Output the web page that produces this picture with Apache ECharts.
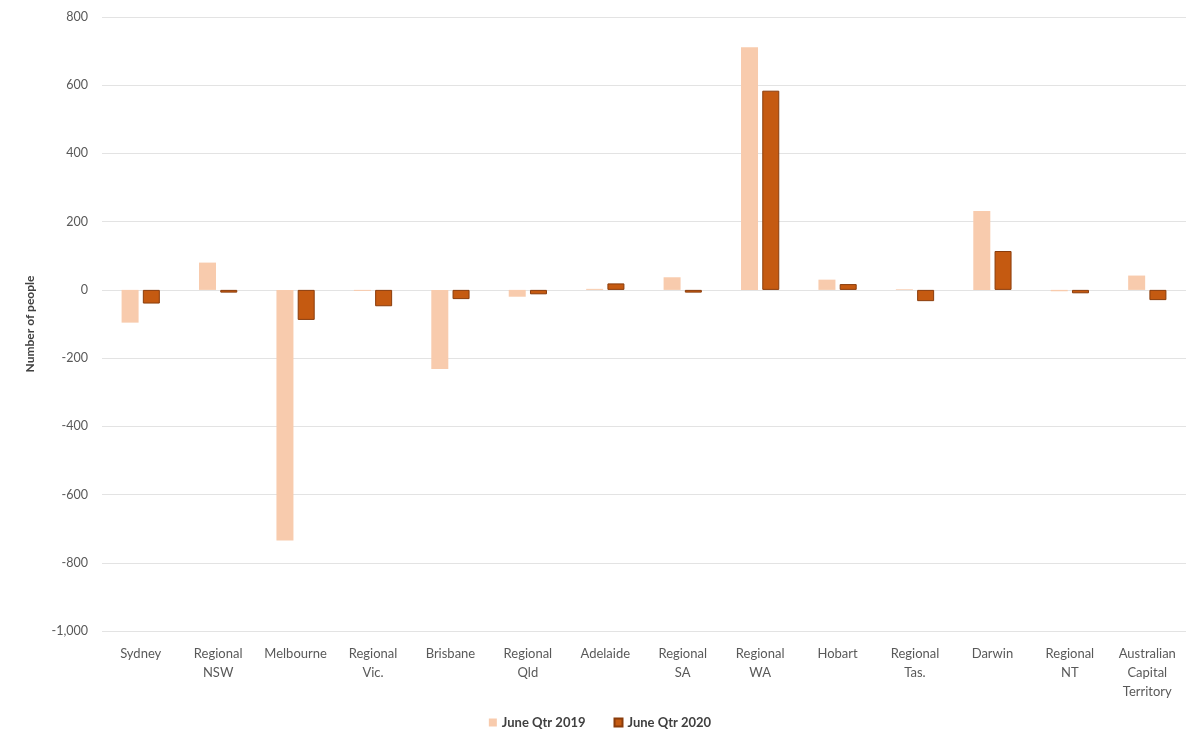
<!DOCTYPE html>
<html>
<head>
<meta charset="utf-8">
<script src="https://cdn.jsdelivr.net/npm/echarts@6/dist/echarts.min.js"></script>
<style>
html,body{margin:0;padding:0;background:#fff;}
#chart{width:1200px;height:750px;}
</style>
</head>
<body>
<div id="chart"></div>
<script>
const categories = ["Sydney","Regional NSW","Melbourne","Regional Vic.","Brisbane","Regional Qld","Adelaide","Regional SA","Regional WA","Hobart","Regional Tas.","Darwin","Regional NT","Australian Capital Territory"];
const seriesNames = ["June Qtr 2019","June Qtr 2020"];
const values2019 = [-96, 80, -735, -3, -232, -20, 3, 37, 711, 30, 2, 231, -4, 42];
const values2020 = [-40, -8, -88, -48, -27, -13, 19, -8, 584, 17, -33, 114, -10, -30];
const yTicks = {min: -1000, max: 800, interval: 200};

const chart = echarts.init(document.getElementById('chart'));
const font = 'Lato, "Open Sans", sans-serif';
chart.setOption({
  animation: false,
  backgroundColor: '#ffffff',
  grid: {left: 102, right: 14, top: 17, bottom: 119},
  legend: {
    bottom: 16, left: 'center',
    icon: 'rect', itemWidth: 8, itemHeight: 8, itemGap: 28,
    textStyle: {fontFamily: font, fontSize: 13, fontWeight: 'bold', color: '#404040'},
    data: seriesNames
  },
  xAxis: {
    type: 'category',
    data: categories,
    axisLine: {show: false, onZero: false},
    axisTick: {show: false},
    axisLabel: {
      interval: 0, margin: 13, color: '#595959', fontFamily: font, fontSize: 13, lineHeight: 19,
      formatter: v => v.split(' ').join('\n')
    }
  },
  yAxis: {
    type: 'value',
    min: yTicks.min, max: yTicks.max, interval: yTicks.interval,
    name: 'Number of people',
    nameLocation: 'middle', nameGap: 66, nameRotate: 90,
    nameTextStyle: {fontFamily: font, fontSize: 12, fontWeight: 'bold', color: '#404040'},
    axisLine: {show: false},
    axisTick: {show: false},
    axisLabel: {
      margin: 14, color: '#595959', fontFamily: font, fontSize: 12.5,
      formatter: v => v.toLocaleString('en-US')
    },
    splitLine: {lineStyle: {color: '#E3E3E3', width: 1}}
  },
  series: [
    {
      name: seriesNames[0], type: 'bar', data: values2019,
      barWidth: 17, barGap: '25%',
      itemStyle: {color: '#F8CBAD'}
    },
    {
      name: seriesNames[1], type: 'bar', data: values2020,
      barWidth: 17,
      itemStyle: {color: '#C55A11', borderColor: '#8A3C0B', borderWidth: 1}
    }
  ]
});
</script>
</body>
</html>
